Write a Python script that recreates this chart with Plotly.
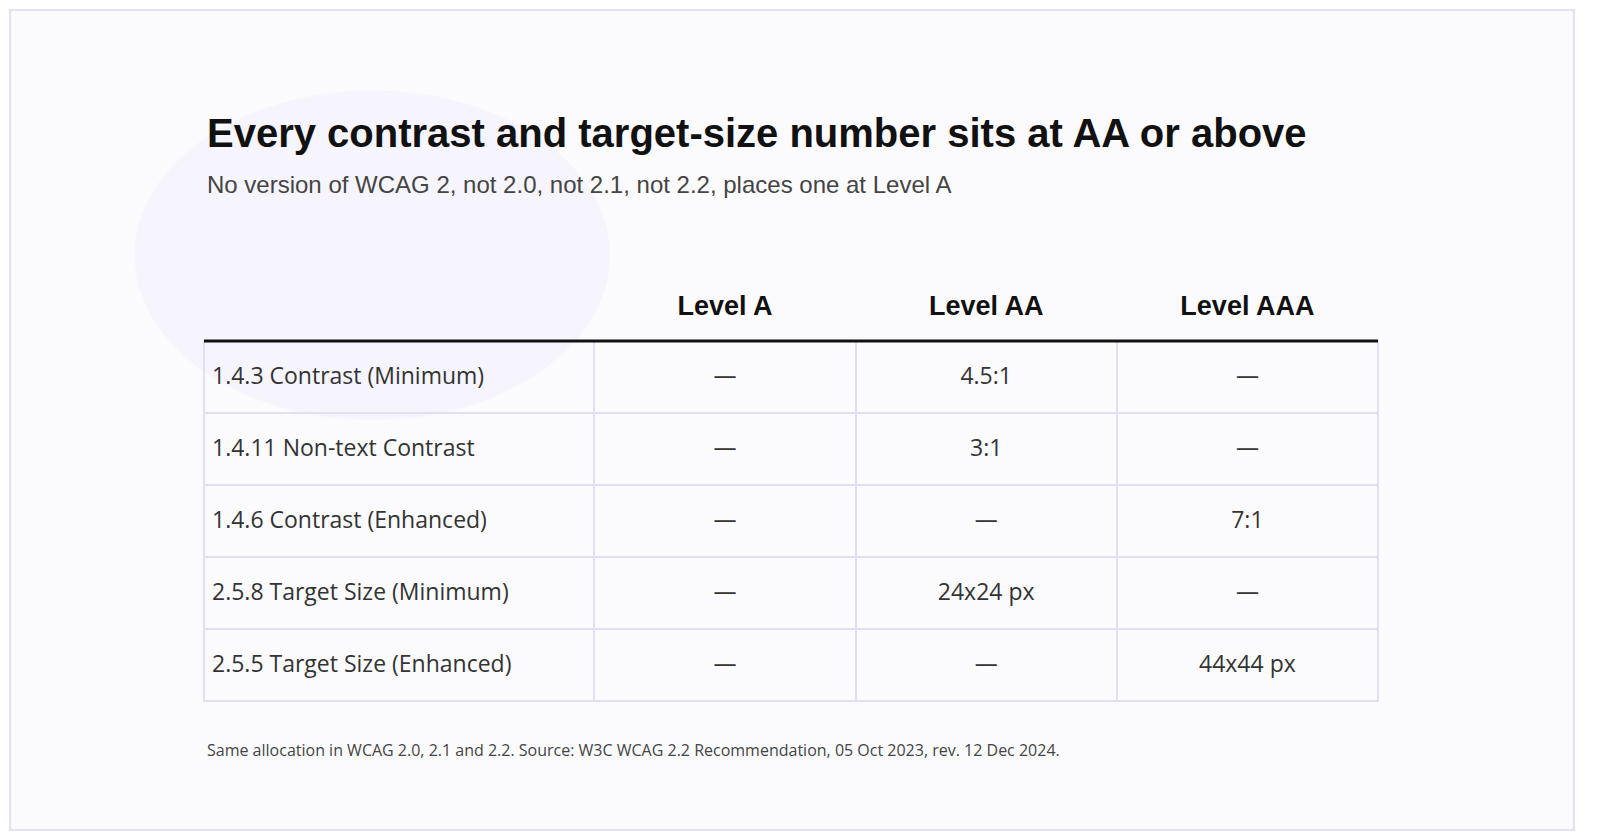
import plotly.graph_objects as go

criteria = ["1.4.3 Contrast (Minimum)", "1.4.11 Non-text Contrast", "1.4.6 Contrast (Enhanced)",
            "2.5.8 Target Size (Minimum)", "2.5.5 Target Size (Enhanced)"]
level_a = ["—", "—", "—", "—", "—"]
level_aa = ["4.5:1", "3:1", "—", "24x24 px", "—"]
level_aaa = ["—", "—", "7:1", "—", "44x44 px"]
headers = ["", "<b>Level A</b>", "<b>Level AA</b>", "<b>Level AAA</b>"]

W, H = 1584, 824
x0, x1 = 196, 1370
top = 265
cw = [390, 261, 261, 261]
blank = ["", "", "", "", ""]
clear = "rgba(0,0,0,0)"

def px(v):
    return v / W

def py(v):
    return 1 - v / H

grid = go.Table(
    domain=dict(x=[px(x0), px(x1)], y=[0, py(top)]),
    columnwidth=cw,
    header=dict(values=["", "", "", ""], height=68, fill_color=clear, line=dict(color=clear, width=0)),
    cells=dict(values=[blank, blank, blank, blank], height=72, fill_color=clear,
               line=dict(color="#e3def2", width=2)),
)
text = go.Table(
    domain=dict(x=[px(x0), px(x1)], y=[0, py(top + 10)]),
    columnwidth=cw,
    header=dict(values=headers, height=76, align=["left", "center"],
                fill_color=clear, line=dict(color=clear, width=0),
                font=dict(family="Liberation Sans", size=27, color="#111")),
    cells=dict(values=[criteria, level_a, level_aa, level_aaa], height=72,
               align=["left", "center"], fill_color=clear, line=dict(color=clear, width=0),
               font=dict(family="Open Sans", size=23, color="#333")),
)

fig = go.Figure([grid, text])
fig.update_layout(
    width=W, height=H, margin=dict(l=0, r=0, t=0, b=0),
    paper_bgcolor="#ffffff",
    shapes=[
        dict(type="rect", xref="paper", yref="paper", x0=px(2), x1=px(1566), y0=py(822), y1=py(2),
             line=dict(color="#e4e0f3", width=2), fillcolor="#fbfbfe", layer="below"),
        dict(type="circle", xref="paper", yref="paper", x0=0.08, x1=0.38, y0=0.5, y1=0.9,
             line=dict(width=0), fillcolor="rgba(230,222,252,0.25)", layer="below"),
        dict(type="line", xref="paper", yref="paper", x0=px(x0), x1=px(x1),
             y0=py(333), y1=py(333), line=dict(color="#111", width=3)),
    ],
    annotations=[
        dict(text="<b>Every contrast and target-size number sits at AA or above</b>", x=px(197), y=py(125),
             xref="paper", yref="paper", xanchor="left", yanchor="middle", showarrow=False,
             font=dict(family="Liberation Sans", size=40, color="#111")),
        dict(text="No version of WCAG 2, not 2.0, not 2.1, not 2.2, places one at Level A", x=px(197), y=py(176),
             xref="paper", yref="paper", xanchor="left", yanchor="middle", showarrow=False,
             font=dict(family="Liberation Sans", size=24, color="#444")),
        dict(text="Same allocation in WCAG 2.0, 2.1 and 2.2. Source: W3C WCAG 2.2 Recommendation, 05 Oct 2023, rev. 12 Dec 2024.",
             x=px(197), y=py(742), xref="paper", yref="paper", xanchor="left", yanchor="middle", showarrow=False,
             font=dict(family="Open Sans", size=16, color="#444")),
    ],
)
fig.write_html("out.html")
